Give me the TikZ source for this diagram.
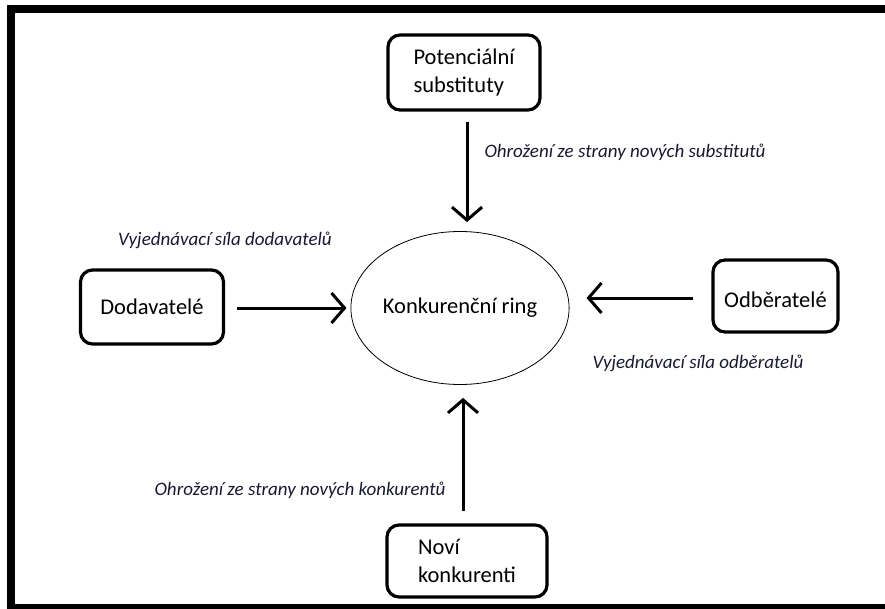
\documentclass[tikz,border=0pt]{standalone}
\usepackage{fontspec}
\setmainfont{Carlito}
\usetikzlibrary{shapes.geometric,arrows.meta,calc}
\definecolor{labelcol}{RGB}{25,25,50}
\tikzset{
  box/.style={draw, line width=3.2pt, rounded corners=12pt, align=left, inner sep=0pt,
    font=\fontsize{22.5}{28}\selectfont},
  lbl/.style={font=\fontsize{19}{22}\selectfont\itshape, text=labelcol, inner sep=0pt},
  arr/.style={line width=3pt, -{Straight Barb[length=13pt,width=30pt]}},
  frame/.style={fill=black}
}
\begin{document}
\begin{tikzpicture}[x=1pt,y=-1pt]
\useasboundingbox (0,0) rectangle (885,609);
% frame
\fill[frame] (7,5) rectangle (885,13);
\fill[frame] (7,5) rectangle (15,609);
\fill[frame] (7,604) rectangle (885,609);
% nodes
\node[draw, ellipse, line width=0.8pt, minimum width=206pt, minimum height=153pt, inner sep=0pt,
      font=\fontsize{22.5}{28}\selectfont] (ring) at (460,308) {Konkurenční ring};
\node[box, minimum width=152pt, minimum height=75pt] (sub) at (464,72.5) {Potenciální\\substituty};
\node[box, minimum width=143pt, minimum height=74pt] (dod) at (152,307) {Dodavatelé};
\node[box, minimum width=125pt, minimum height=72pt, text height=22pt, text depth=0pt] (odb) at (775.5,296) {Odběratelé};
\node[box, minimum width=160pt, minimum height=72pt] (new) at (467,561) {Noví\\konkurenti};
% labels
\node[lbl] (lsub) at (625,152) {Ohrožení ze strany nových substitutů};
\node[lbl] (ldod) at (225,240) {Vyjednávací síla dodavatelů};
\node[lbl] (lodb) at (698,363) {Vyjednávací síla odběratelů};
\node[lbl] (lnew) at (300,490) {Ohrožení ze strany nových konkurentů};
% arrows
\draw[arr] ($(sub.south)+(3,10)$) -- ($(sub.south |- ring.north)+(3,-9)$);
\draw[arr] ($(new.north)+(-4,-12)$) -- ($(new.north |- ring.south)+(-4,13)$);
\draw[arr] ($(dod.east)+(12,1)$) -- ($(dod.east -| ring.west)+(-4,1)$);
\draw[arr] ($(odb.west)+(-18,2)$) -- ($(odb.west -| ring.east)+(17,2)$);
\end{tikzpicture}
\end{document}
